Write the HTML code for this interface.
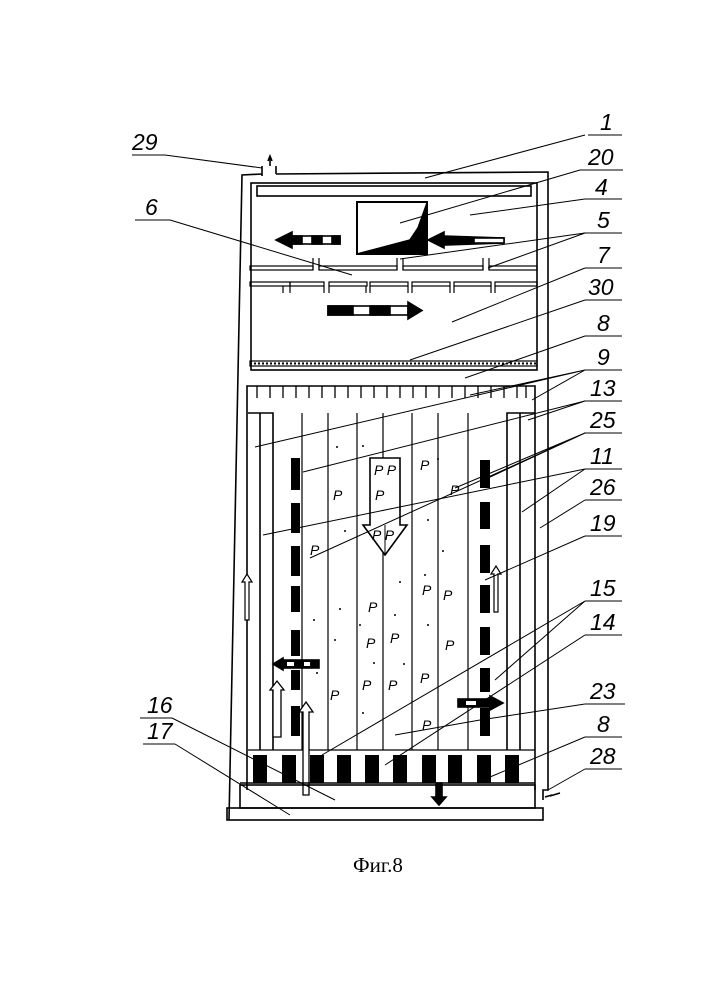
<!DOCTYPE html>
<html><head><meta charset="utf-8"><style>
html,body{margin:0;padding:0;background:#fff;width:707px;height:1000px;overflow:hidden}
svg{display:block}
.l{font-family:"Liberation Sans",sans-serif;font-style:italic;font-size:23px;fill:#000}
.p{font-family:"Liberation Sans",sans-serif;font-style:italic;font-size:14px;fill:#000}
</style></head><body>
<svg width="707" height="1000" viewBox="0 0 707 1000" xmlns="http://www.w3.org/2000/svg" stroke="#000" fill="none" stroke-width="1.6">
<path d="M262 174 L242 175 L229 820"/>
<path d="M276 174 L548 172 L548 790 L543 790 L543 800"/>
<path d="M262 166 V176 M270 166 V158 M268 161 L270 156 L272 161 M276 166 V174"/>
<rect x="251" y="183" width="286" height="187"/>
<rect x="257" y="186" width="274" height="10"/>
<rect x="357" y="202" width="70" height="52" stroke-width="2"/>
<path d="M427 203 L418 228 L410 240 L357 254 L427 254 Z" fill="#000"/>
<path d="M276 240 L292 232 L292 248 Z" fill="#000"/>
<rect x="292" y="236" width="48" height="8" fill="#fff"/>
<rect x="292" y="236" width="10" height="8" fill="#000"/>
<rect x="312" y="236" width="10" height="8" fill="#000"/>
<rect x="332" y="236" width="8" height="8" fill="#000"/>
<path d="M428 240 L444 232 L444 248 Z" fill="#000"/>
<path d="M444 236 L504 238 L504 243 L444 245 Z" fill="#000"/>
<rect x="474" y="238" width="30" height="5" fill="#fff"/>
<g stroke-width="1.2">
<rect x="250" y="266" width="63" height="4"/><rect x="319" y="266" width="78" height="4"/><rect x="403" y="266" width="80" height="4"/><rect x="489" y="266" width="48" height="4"/>
<path d="M313 258 V270 M319 258 V270 M397 258 V270 M403 258 V270 M483 258 V270 M489 258 V270"/>
<rect x="250" y="282" width="40" height="4"/><rect x="290" y="282" width="34" height="4"/><rect x="329" y="282" width="38" height="4"/><rect x="370" y="282" width="38" height="4"/><rect x="412" y="282" width="38" height="4"/><rect x="454" y="282" width="37" height="4"/><rect x="495" y="282" width="42" height="4"/>
<path d="M290 286 V293 M329 286 V293 M370 286 V293 M412 286 V293 M454 286 V293 M495 286 V293"/>
<path d="M283 286 V293 M324 286 V293 M366 286 V293 M408 286 V293 M450 286 V293 M491 286 V293"/>
</g>
<rect x="328" y="306" width="80" height="9" fill="#fff"/>
<rect x="328" y="306" width="25" height="9" fill="#000"/>
<rect x="370" y="306" width="20" height="9" fill="#000"/>
<path d="M408 302 L422 310.5 L408 319 Z" fill="#000"/>
<rect x="250" y="361" width="287" height="5" stroke-width="1.2"/>
<path d="M250 363.5 H537" stroke-dasharray="2 2" stroke-width="2"/>
<path d="M247 790 V386 H535 V790"/>
<g stroke-width="1.3">
<path d="M257 386V398 M270 386V398 M283 386V398 M296 386V398 M309 386V398 M322 386V398 M335 386V398 M348 386V398 M361 386V398 M374 386V398 M387 386V398 M400 386V398 M413 386V398 M426 386V398 M439 386V398 M452 386V398 M465 386V398 M478 386V398 M491 386V398 M504 386V398 M517 386V398 M526 386V398"/>
</g>
<path d="M248 413 H273 V750 M260 413 V750"/>
<path d="M535 413 H507 V750 M520 413 V750"/>
<path d="M302 413V750 M328 413V750 M357 413V750 M383 413V750 M412 413V750 M438 413V750 M468 413V750" stroke-width="1.2"/>
<path d="M248 750 H535" stroke-width="1.3"/>
<g fill="#000" stroke="none">
<rect x="291" y="458" width="9" height="32"/><rect x="291" y="503" width="9" height="30"/><rect x="291" y="546" width="9" height="30"/><rect x="291" y="586" width="9" height="26"/><rect x="291" y="630" width="9" height="26"/><rect x="291" y="670" width="9" height="20"/><rect x="291" y="706" width="9" height="30"/>
<rect x="480" y="460" width="10" height="28"/><rect x="480" y="502" width="10" height="27"/><rect x="480" y="545" width="10" height="28"/><rect x="480" y="585" width="10" height="28"/><rect x="480" y="627" width="10" height="28"/><rect x="480" y="668" width="10" height="24"/><rect x="480" y="708" width="10" height="28"/>
<rect x="253" y="755" width="14" height="28"/><rect x="282" y="755" width="14" height="28"/><rect x="310" y="755" width="14" height="28"/><rect x="337" y="755" width="14" height="28"/><rect x="365" y="755" width="14" height="28"/><rect x="393" y="755" width="14" height="28"/><rect x="422" y="755" width="14" height="28"/><rect x="448" y="755" width="14" height="28"/><rect x="477" y="755" width="14" height="28"/><rect x="505" y="755" width="14" height="28"/>
</g>
<path d="M370 458 H400 V525 H407 L385 555 L363 525 H370 Z" fill="#fff"/>
<path d="M385 525 V555" stroke-width="1"/>
<g stroke="none">
<text class="p" x="333" y="500">P</text><text class="p" x="310" y="555">P</text>
<text class="p" x="420" y="470">P</text><text class="p" x="450" y="495">P</text>
<text class="p" x="368" y="612">P</text><text class="p" x="422" y="595">P</text>
<text class="p" x="443" y="600">P</text><text class="p" x="366" y="648">P</text>
<text class="p" x="390" y="643">P</text><text class="p" x="445" y="650">P</text>
<text class="p" x="330" y="700">P</text><text class="p" x="362" y="690">P</text>
<text class="p" x="388" y="690">P</text><text class="p" x="420" y="683">P</text>
<text class="p" x="422" y="730">P</text>
<text class="p" x="374" y="475" font-size="10">P  P</text><text class="p" x="375" y="500" font-size="10">P</text><text class="p" x="372" y="540" font-size="10">P  P</text>
</g>
<g fill="#000" stroke="none">
<circle cx="337" cy="447" r="1"/><circle cx="363" cy="446" r="1"/><circle cx="438" cy="459" r="1"/><circle cx="345" cy="531" r="1"/><circle cx="428" cy="520" r="1"/><circle cx="443" cy="551" r="1"/><circle cx="425" cy="575" r="1"/><circle cx="400" cy="582" r="1"/><circle cx="340" cy="609" r="1"/><circle cx="314" cy="620" r="1"/><circle cx="360" cy="625" r="1"/><circle cx="395" cy="615" r="1"/><circle cx="428" cy="625" r="1"/><circle cx="404" cy="664" r="1"/><circle cx="374" cy="663" r="1"/><circle cx="317" cy="673" r="1"/><circle cx="363" cy="713" r="1"/><circle cx="335" cy="640" r="1"/></g>
<path d="M245 620 V582 H242 L247 574 L252 582 H249 V620 Z" stroke-width="1.2" fill="#fff"/>
<path d="M494 612 V574 H491 L496 566 L501 574 H498 V612 Z" stroke-width="1.2" fill="#fff"/>
<path d="M273 737 V690 H270 L277 681 L284 690 H281 V737 Z" stroke-width="1.3" fill="#fff"/>
<path d="M303 795 V712 H299 L306 702 L313 712 H309 V795 Z" stroke-width="1.3" fill="#fff"/>
<path d="M273 664 L283 658 L283 670 Z" fill="#000"/>
<rect x="283" y="660" width="36" height="8" fill="#000"/>
<rect x="287" y="662" width="7" height="4" fill="#fff" stroke="none"/><rect x="304" y="662" width="6" height="4" fill="#fff" stroke="none"/>
<rect x="458" y="699" width="32" height="8" fill="#000"/>
<rect x="466" y="701" width="10" height="4" fill="#fff" stroke="none"/>
<path d="M490 696 L503 703 L490 710 Z" fill="#000"/>
<rect x="436" y="783" width="6" height="16" fill="#000"/>
<path d="M432 797 L446 797 L439 805 Z" fill="#000"/>
<path d="M240 783 H535"/>
<rect x="240" y="785" width="295" height="23"/>
<rect x="227" y="808" width="316" height="12"/>
<path d="M560 793 L550 796 M552 795 L545 797"/>
<g stroke-width="1">
<path d="M588 135 H622 M585 135 L425 178"/>
<path d="M580 170 H623 M580 170 L400 223"/>
<path d="M585 199 H622 M585 199 L470 215"/>
<path d="M585 233 H622 M585 233 L400 259 M585 233 L488 268"/>
<path d="M135 220 H170 M170 220 L352 275"/>
<path d="M585 268 H622 M585 268 L452 322"/>
<path d="M585 300 H622 M585 300 L410 360"/>
<path d="M585 336 H622 M585 336 L465 378"/>
<path d="M585 370 H622 M585 370 L470 395 M585 370 L532 400 M585 370 L255 447"/>
<path d="M585 401 H622 M585 401 L528 420 M585 401 L303 472"/>
<path d="M585 433 H622 M585 433 L488 478 M585 433 L310 558 M585 433 L455 488"/>
<path d="M585 469 H622 M585 469 L522 512 M585 469 L263 535"/>
<path d="M585 500 H622 M585 500 L540 528"/>
<path d="M585 536 H622 M585 536 L485 580"/>
<path d="M585 601 H622 M585 601 L495 680 M585 601 L322 755"/>
<path d="M585 635 H622 M585 635 L385 765"/>
<path d="M585 704 H625 M585 704 L480 720 M480 720 L395 735"/>
<path d="M585 737 H622 M585 737 L490 777"/>
<path d="M585 769 H622 M585 769 L548 790"/>
<path d="M132 155 H165 M165 155 L262 168"/>
<path d="M140 718 H172 M172 718 L335 800"/>
<path d="M143 744 H175 M175 744 L290 815"/>
</g>
<g stroke="none">
<text class="l" x="600" y="130">1</text>
<text class="l" x="588" y="165">20</text>
<text class="l" x="595" y="195">4</text>
<text class="l" x="597" y="228">5</text>
<text class="l" x="145" y="215">6</text>
<text class="l" x="597" y="263">7</text>
<text class="l" x="588" y="295">30</text>
<text class="l" x="597" y="331">8</text>
<text class="l" x="597" y="365">9</text>
<text class="l" x="590" y="396">13</text>
<text class="l" x="590" y="428">25</text>
<text class="l" x="590" y="464">11</text>
<text class="l" x="590" y="495">26</text>
<text class="l" x="590" y="531">19</text>
<text class="l" x="590" y="596">15</text>
<text class="l" x="590" y="630">14</text>
<text class="l" x="590" y="699">23</text>
<text class="l" x="597" y="732">8</text>
<text class="l" x="590" y="764">28</text>
<text class="l" x="132" y="150">29</text>
<text class="l" x="147" y="713">16</text>
<text class="l" x="147" y="739">17</text>
<text x="353" y="872" font-family="Liberation Serif,serif" font-size="21" fill="#000">Фиг.8</text>
</g>
</svg>
</body></html>
